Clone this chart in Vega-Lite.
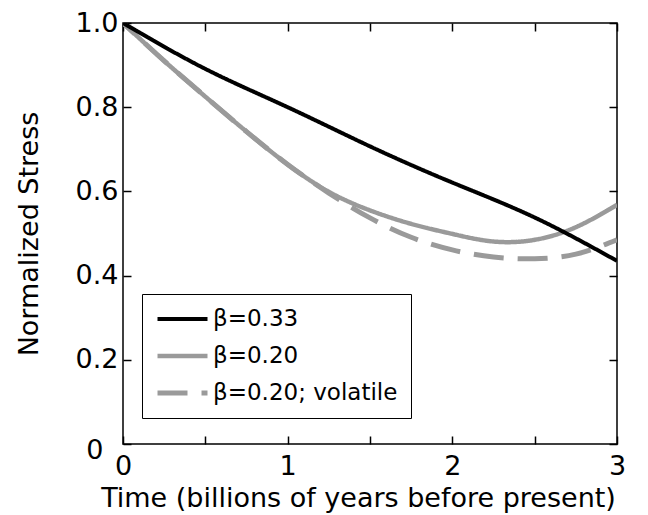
{
  "$schema": "https://vega.github.io/schema/vega-lite/v6.json",
  "width": 494,
  "height": 421,
  "autosize": {"type": "none"},
  "padding": {"left": 123, "top": 23, "right": 31, "bottom": 71},
  "background": "white",
  "config": {
    "view": {"stroke": "black", "strokeWidth": 1.5},
    "font": "DejaVu Sans",
    "axis": {
      "domain": false,
      "grid": false,
      "ticks": true,
      "tickColor": "black",
      "tickWidth": 1.5,
      "labelColor": "black",
      "titleColor": "black",
      "labelFont": "DejaVu Sans",
      "titleFont": "DejaVu Sans",
      "titleFontWeight": "normal"
    }
  },
  "data": {
    "values": [
      {"s": "β=0.20", "t": 0, "v": 1.0},
      {"s": "β=0.20", "t": 0.25, "v": 0.91},
      {"s": "β=0.20", "t": 0.5, "v": 0.825},
      {"s": "β=0.20", "t": 0.75, "v": 0.742},
      {"s": "β=0.20", "t": 1.0, "v": 0.664},
      {"s": "β=0.20", "t": 1.25, "v": 0.599},
      {"s": "β=0.20", "t": 1.5, "v": 0.555},
      {"s": "β=0.20", "t": 1.75, "v": 0.523},
      {"s": "β=0.20", "t": 2.0, "v": 0.499},
      {"s": "β=0.20", "t": 2.25, "v": 0.481},
      {"s": "β=0.20", "t": 2.5, "v": 0.485},
      {"s": "β=0.20", "t": 2.75, "v": 0.515},
      {"s": "β=0.20", "t": 3.0, "v": 0.568},
      {"s": "β=0.20; volatile", "t": 0, "v": 1.0},
      {"s": "β=0.20; volatile", "t": 0.25, "v": 0.91},
      {"s": "β=0.20; volatile", "t": 0.5, "v": 0.825},
      {"s": "β=0.20; volatile", "t": 0.75, "v": 0.742},
      {"s": "β=0.20; volatile", "t": 1.0, "v": 0.664},
      {"s": "β=0.20; volatile", "t": 1.25, "v": 0.596},
      {"s": "β=0.20; volatile", "t": 1.5, "v": 0.537},
      {"s": "β=0.20; volatile", "t": 1.75, "v": 0.491},
      {"s": "β=0.20; volatile", "t": 2.0, "v": 0.461},
      {"s": "β=0.20; volatile", "t": 2.25, "v": 0.444},
      {"s": "β=0.20; volatile", "t": 2.5, "v": 0.44},
      {"s": "β=0.20; volatile", "t": 2.75, "v": 0.451},
      {"s": "β=0.20; volatile", "t": 3.0, "v": 0.485},
      {"s": "β=0.33", "t": 0, "v": 1.0},
      {"s": "β=0.33", "t": 0.5, "v": 0.891},
      {"s": "β=0.33", "t": 1.0, "v": 0.80},
      {"s": "β=0.33", "t": 1.5, "v": 0.707},
      {"s": "β=0.33", "t": 2.0, "v": 0.621},
      {"s": "β=0.33", "t": 2.5, "v": 0.538},
      {"s": "β=0.33", "t": 3.0, "v": 0.435}
    ]
  },
  "layer": [
    {
      "mark": {"type": "line", "strokeCap": "butt", "clip": true, "interpolate": "natural", "strokeDashOffset": 14},
      "encoding": {
        "x": {
          "field": "t",
          "type": "quantitative",
          "scale": {"domain": [0, 3], "nice": false},
          "axis": {
            "orient": "bottom",
            "values": [0, 0.5, 1, 1.5, 2, 2.5, 3],
            "labelExpr": "datum.value % 1 === 0 ? format(datum.value, 'd') : ''",
            "tickSize": -8,
            "labelPadding": 30,
            "labelFontSize": 27,
            "labelBaseline": "middle",
            "labelFlush": false,
            "title": "Time (billions of years before present)",
            "titleFontSize": 27,
            "titleBaseline": "alphabetic",
            "titleY": 62,
            "titleX": 235
          }
        },
        "y": {
          "field": "v",
          "type": "quantitative",
          "scale": {"domain": [0, 1], "nice": false},
          "axis": {
            "orient": "left",
            "values": [0, 0.2, 0.4, 0.6, 0.8, 1.0],
            "labelExpr": "datum.value === 0 ? '0' : format(datum.value, '.1f')",
            "tickSize": -8,
            "labelPadding": {"condition": {"test": "datum.value === 0", "value": 28}, "value": 13},
            "labelOffset": {"condition": {"test": "datum.value === 0", "value": 6}, "value": 0},
            "labelFontSize": 27,
            "labelFlush": false,
            "title": "Normalized Stress",
            "titleFontSize": 27,
            "titleX": -94,
            "titleBaseline": "middle"
          }
        },
        "color": {
          "field": "s",
          "type": "nominal",
          "scale": {
            "domain": ["β=0.33", "β=0.20", "β=0.20; volatile"],
            "range": ["#000000", "#9a9a9a", "#9a9a9a"]
          },
          "legend": {
            "title": null,
            "orient": "none",
            "legendX": 19,
            "legendY": 271,
            "strokeColor": "black",
            "fillColor": "white",
            "padding": 13,
            "symbolType": "stroke",
            "symbolSize": 2500,
            "symbolStrokeWidth": 4,
            "clipHeight": 24,
            "labelFontSize": 23,
            "labelColor": "black",
            "labelOffset": 3,
            "rowPadding": 13,
            "labelFont": "DejaVu Sans",
            "labelLimit": 400
          }
        },
        "strokeDash": {
          "field": "s",
          "type": "nominal",
          "scale": {
            "domain": ["β=0.33", "β=0.20", "β=0.20; volatile"],
            "range": [[1, 0], [1, 0], [30, 14]]
          },
          "legend": null
        },
        "strokeWidth": {
          "field": "s",
          "type": "nominal",
          "scale": {
            "domain": ["β=0.33", "β=0.20", "β=0.20; volatile"],
            "range": [4, 5, 5]
          },
          "legend": null
        }
      }
    },
    {
      "mark": {"type": "point", "opacity": 0},
      "encoding": {
        "x": {
          "field": "t",
          "type": "quantitative",
          "axis": {
            "orient": "top",
            "values": [0, 0.5, 1, 1.5, 2, 2.5, 3],
            "labels": false,
            "tickSize": -8,
            "title": null
          }
        },
        "y": {
          "field": "v",
          "type": "quantitative",
          "axis": {
            "orient": "right",
            "values": [0, 0.2, 0.4, 0.6, 0.8, 1.0],
            "labels": false,
            "tickSize": -8,
            "title": null
          }
        }
      }
    }
  ],
  "resolve": {"axis": {"x": "independent", "y": "independent"}}
}
